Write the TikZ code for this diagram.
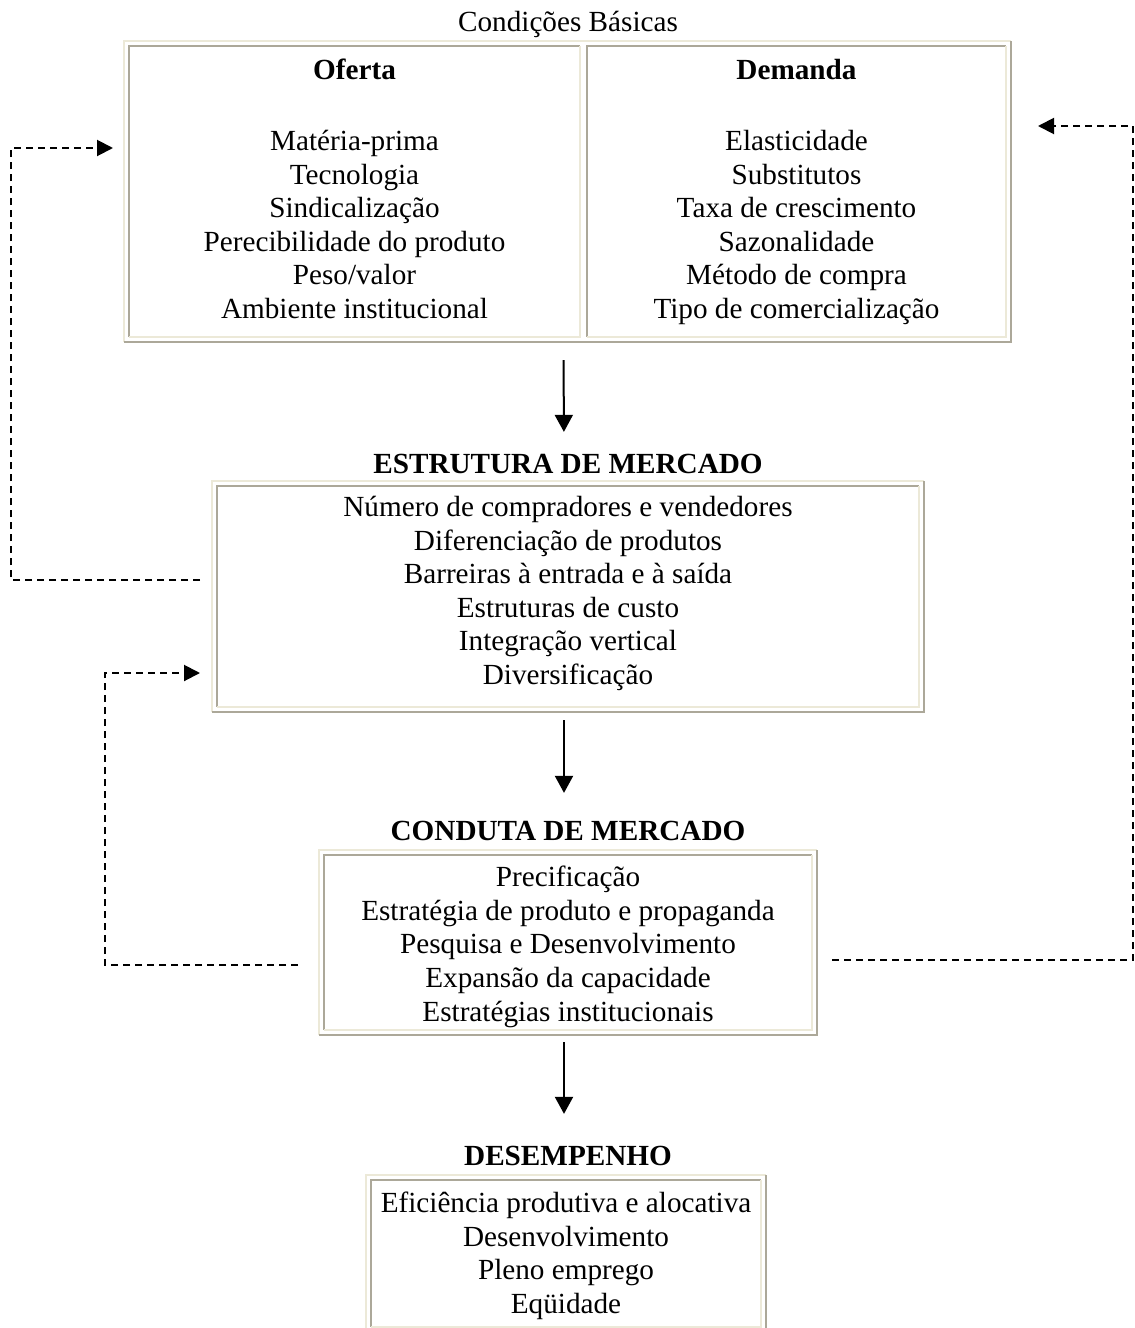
\documentclass[tikz,border=0pt]{standalone}
\usepackage{fontspec}
\setmainfont{Liberation Serif}
\usetikzlibrary{arrows.meta,calc,fit,positioning}

\definecolor{ridgelight}{HTML}{ECE9D8}
\definecolor{ridgedark}{HTML}{ACA899}

% two-tone border around a node: #2 top/left, #3 bottom/right
\newcommand{\ridge}[3]{%
  \draw[#2, line width=1pt] (#1.south west) -- (#1.north west) -- (#1.north east);
  \draw[#3, line width=1pt] (#1.north east) -- (#1.south east) -- (#1.south west);
}

\begin{document}
\begin{tikzpicture}[x=0.5pt, y=-0.5pt,
    cell/.style={rectangle, inner sep=0pt, outer sep=0pt},
    frame/.style={rectangle, inner sep=2.5pt, outer sep=0pt},
    item/.style={inner sep=0pt, anchor=mid, yshift=-2.5pt, font=\fontsize{14.6}{16.8}\selectfont},
    head/.style={item, font=\fontsize{14.6}{16.8}\selectfont\bfseries},
    flow/.style={-{Triangle[width=9pt,length=8.5pt]}, line width=1pt},
    feedback/.style={-{Triangle[width=8pt,length=8pt]}, line width=1pt, dash pattern=on 3.5pt off 2.5pt}]
  \useasboundingbox (0,0) rectangle (1135,1328);

  % condicoes basicas
  \node[item] (basicasTitle) at (568,22) {Condições Básicas};
  \node[cell, minimum width=225.5pt, minimum height=145.5pt] (oferta) at (354.5,191.5) {};
  \node[cell, minimum width=209.5pt, minimum height=145.5pt] (demanda) at (796.5,191.5) {};
  \node[frame, fit=(oferta)(demanda)] (basicas) {};
  \ridge{basicas}{ridgelight}{ridgedark}
  \ridge{oferta}{ridgedark}{ridgelight}
  \ridge{demanda}{ridgedark}{ridgelight}
  \node[head] (ofertaHead) at ($(oferta.north)+(0,24)$) {Oferta};
  \node[head] (demandaHead) at ($(demanda.north)+(0,24)$) {Demanda};
  \foreach \txt [count=\i] in {Matéria-prima, Tecnologia, Sindicalização,
      Perecibilidade do produto, Peso/valor, Ambiente institucional}
    \node[item] (ofertaL\i) at ($(oferta.north)+(0,{61.4+33.6*\i})$) {\txt};
  \foreach \txt [count=\i] in {Elasticidade, Substitutos, Taxa de crescimento,
      Sazonalidade, Método de compra, Tipo de comercialização}
    \node[item] (demandaL\i) at ($(demanda.north)+(0,{61.4+33.6*\i})$) {\txt};

  % estrutura
  \node[head] (estTitle) at (568,464) {ESTRUTURA DE MERCADO};
  \node[cell, minimum width=351pt, minimum height=110.5pt] (estrutura) at (568,596.5) {};
  \node[frame, fit=(estrutura)] (estFrame) {};
  \ridge{estFrame}{ridgelight}{ridgedark}
  \ridge{estrutura}{ridgedark}{ridgelight}
  \foreach \txt [count=\i] in {Número de compradores e vendedores, Diferenciação de produtos,
      Barreiras à entrada e à saída, Estruturas de custo, Integração vertical, Diversificação}
    \node[item] (estL\i) at ($(estrutura.north)+(0,{-12.6+33.6*\i})$) {\txt};

  % conduta
  \node[head] (condTitle) at (568,831) {CONDUTA DE MERCADO};
  \node[cell, minimum width=244pt, minimum height=87.5pt] (conduta) at (568,942.5) {};
  \node[frame, fit=(conduta)] (condFrame) {};
  \ridge{condFrame}{ridgelight}{ridgedark}
  \ridge{conduta}{ridgedark}{ridgelight}
  \foreach \txt [count=\i] in {Precificação, Estratégia de produto e propaganda,
      Pesquisa e Desenvolvimento, Expansão da capacidade, Estratégias institucionais}
    \node[item] (condL\i) at ($(conduta.north)+(0,{-11.6+33.6*\i})$) {\txt};

  % desempenho
  \node[head] (desTitle) at (568,1156) {DESEMPENHO};
  \node[cell, minimum width=195pt, minimum height=73.5pt] (desempenho) at (566,1253.5) {};
  \node[frame, fit=(desempenho)] (desFrame) {};
  \ridge{desFrame}{ridgelight}{ridgedark}
  \ridge{desempenho}{ridgedark}{ridgelight}
  \foreach \txt [count=\i] in {Eficiência produtiva e alocativa, Desenvolvimento,
      Pleno emprego, Eqüidade}
    \node[item] (desL\i) at ($(desempenho.north)+(0,{-10.6+33.6*\i})$) {\txt};

  % fluxo principal
  \draw[flow, shorten <=9pt, shorten >=11pt]
    ([xshift=-2pt]basicas.south) -- ([xshift=-2pt]estTitle.north);
  \draw[flow, shorten <=4pt, shorten >=14pt]
    ([xshift=-2pt]estFrame.south) -- ([xshift=-2pt]condTitle.north);
  \draw[flow, shorten <=3.5pt, shorten >=16pt]
    ([xshift=-2pt]condFrame.south) -- ([xshift=-2pt]desTitle.north);

  % realimentacao
  \coordinate (loopA) at (11,148);
  \coordinate (loopB) at (105,673);
  \coordinate (loopC) at (1133,126);
  \draw[feedback, shorten <=6pt, shorten >=5.5pt]
    ([yshift=8.25pt]estFrame.west) -| (loopA) -- (basicas.west |- loopA);
  \draw[feedback, shorten <=10.5pt, shorten >=6pt]
    ([yshift=-11.25pt]condFrame.west) -| (loopB) -- (estFrame.west |- loopB);
  \draw[feedback, shorten <=7.5pt, shorten >=13.5pt]
    ([yshift=-8.75pt]condFrame.east) -| (loopC) -- (basicas.east |- loopC);
\end{tikzpicture}
\end{document}
